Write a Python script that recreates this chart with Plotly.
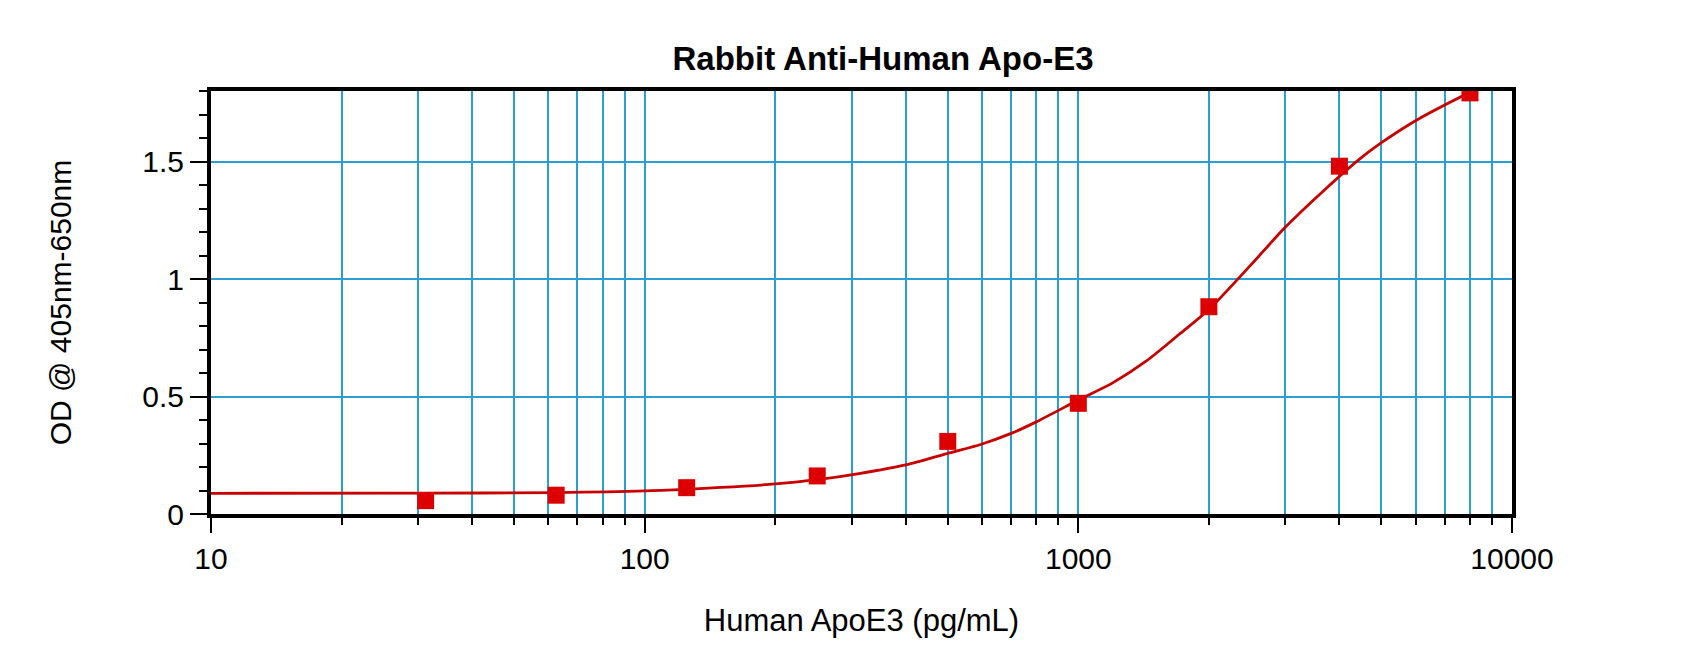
import plotly.graph_objects as go

# standard points (pg/mL, OD)
std_conc = [31.25, 62.5, 125, 250, 500, 1000, 2000, 4000, 8000]
std_od = [0.057, 0.080, 0.112, 0.162, 0.309, 0.471, 0.882, 1.480, 1.792]

# fitted curve
fit_conc = [10, 31.25, 62.5, 100, 150, 200, 250, 312, 400, 500, 600, 700, 800,
            1000, 1200, 1430, 1720, 2000, 2500, 3000, 3700, 4450, 5000, 6130, 8000]
fit_od = [0.088, 0.089, 0.091, 0.098, 0.113, 0.128, 0.146, 0.172, 0.209, 0.258,
          0.298, 0.343, 0.392, 0.485, 0.558, 0.649, 0.769, 0.870, 1.060, 1.220,
          1.380, 1.510, 1.580, 1.684, 1.795]

x_major = [10, 100, 1000, 10000]
x_major_text = ["10", "100", "1000", "10000"]
x_minor = [m * d for d in (10, 100, 1000) for m in range(2, 10)]
y_major = [0, 0.5, 1, 1.5]
y_major_text = ["0", "0.5", "1", "1.5"]

FONT = "Liberation Sans, Arial, sans-serif"
GRID = "#2b9fd4"

fig = go.Figure()
fig.add_trace(go.Scatter(
    x=fit_conc, y=fit_od, mode="lines",
    line=dict(color="#c80000", width=2.8, shape="spline", smoothing=0.8),
    showlegend=False, hoverinfo="skip",
))
fig.add_trace(go.Scatter(
    x=std_conc, y=std_od, mode="markers",
    marker=dict(symbol="square", size=17, color="#dd0000", line=dict(width=0)),
    showlegend=False,
))

fig.update_layout(
    width=1700, height=645, autosize=False,
    margin=dict(l=203, r=196, t=83, b=139),
    paper_bgcolor="white", plot_bgcolor="white",
    font=dict(family=FONT, color="black"),
    title=dict(text="<b>Rabbit Anti-Human Apo-E3</b>", x=875 / 1700, xanchor="center",
               y=1 - 50 / 645, yanchor="middle", font=dict(size=33, family=FONT, color="black")),
)

fig.update_xaxes(
    type="log", range=[1, 4],
    tickmode="array", tickvals=x_major, ticktext=x_major_text,
    tickfont=dict(size=30), ticks="outside", ticklen=15, tickwidth=2, tickcolor="black",
    showgrid=True, gridcolor=GRID, gridwidth=1.5,
    minor=dict(tickmode="array", tickvals=x_minor, ticks="outside", ticklen=7,
               tickwidth=2, tickcolor="black", showgrid=True, gridcolor=GRID, gridwidth=1.5),
    showline=True, linecolor="black", linewidth=4, mirror=True,
    zeroline=False,
    title=dict(text="Human ApoE3 (pg/mL)", font=dict(size=31), standoff=36),
)
fig.update_yaxes(
    range=[0, 1.8],
    tickmode="array", tickvals=y_major, ticktext=y_major_text,
    tickfont=dict(size=30), ticks="outside", ticklen=17, tickwidth=2, tickcolor="black",
    showgrid=True, gridcolor=GRID, gridwidth=1.5,
    minor=dict(dtick=0.1, tick0=0, ticks="outside", ticklen=8, tickwidth=2,
               tickcolor="black", showgrid=False),
    showline=True, linecolor="black", linewidth=4, mirror=True,
    zeroline=False,
    title=dict(text="OD @ 405nm-650nm", font=dict(size=30), standoff=63),
)

fig.write_html("out.html")
